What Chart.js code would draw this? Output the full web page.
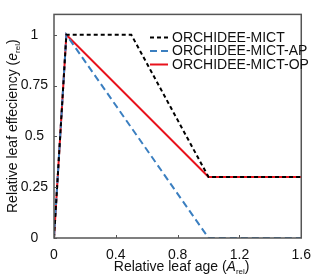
<!DOCTYPE html>
<html lang="en">
<head>
<meta charset="UTF-8">
<title>Relative leaf efficiency</title>
<script src="https://cdn.jsdelivr.net/npm/chart.js"></script>
<style>
  html, body { margin: 0; padding: 0; background: #fff; }
  #wrap { width: 320px; height: 275px; }
</style>
</head>
<body>
<div id="wrap"><canvas id="leafChart"></canvas></div>
<script>
// series data (relative leaf age -> relative leaf efficiency)
const mictAge = [0, 0.08, 0.5, 1.0, 1.6];
const mictEff = [0, 1, 1, 0.3, 0.3];
const apAge = [0, 0.08, 1.0, 1.6];
const apEff = [0, 1, 0, 0];
const opAge = [0, 0.08, 1.0, 1.6];
const opEff = [0, 1, 0.3, 0.3];

const seriesNames = ['ORCHIDEE-MICT', 'ORCHIDEE-MICT-AP', 'ORCHIDEE-MICT-OP'];
const xTicks = [0, 0.4, 0.8, 1.2, 1.6];
const yTicks = [0, 0.25, 0.5, 0.75, 1];

const font = '"Liberation Sans", Arial, sans-serif';

function pts(xs, ys) {
    return xs.map((x, i) => ({ x: x, y: ys[i] }));
}

// frame, inward tick marks, axis titles with subscripts, legend
const decor = {
    id: 'decor',
    afterDraw(chart) {
        const c = chart.ctx;
        const a = chart.chartArea;
        const sx = chart.scales.x, sy = chart.scales.y;
        c.save();
        c.strokeStyle = '#555';
        c.lineWidth = 1.5;
        c.strokeRect(a.left, a.top, a.right - a.left, a.bottom - a.top);
        c.lineWidth = 1;
        xTicks.forEach(v => {
            const px = Math.round(sx.getPixelForValue(v)) + 0.5;
            c.beginPath(); c.moveTo(px, a.bottom); c.lineTo(px, a.bottom - 3); c.stroke();
        });
        yTicks.forEach(v => {
            const py = Math.round(sy.getPixelForValue(v)) + 0.5;
            c.beginPath(); c.moveTo(a.left, py); c.lineTo(a.left + 3, py); c.stroke();
        });

        // x title
        c.fillStyle = '#111';
        c.textBaseline = 'alphabetic';
        const xy = 271;
        const parts = [
            { t: 'Relative leaf age (', f: '14px ' + font, dy: 0 },
            { t: 'A', f: 'italic 14px ' + font, dy: 0 },
            { t: 'rel', f: '8px ' + font, dy: 3 },
            { t: ')', f: '14px ' + font, dy: 0 }
        ];
        let w = 0;
        parts.forEach(p => { c.font = p.f; w += c.measureText(p.t).width; });
        let x = (a.left + a.right) / 2 - w / 2 + 4;
        parts.forEach(p => {
            c.font = p.f; c.fillText(p.t, x, xy + p.dy); x += c.measureText(p.t).width;
        });

        // y title
        c.save();
        c.translate(17, (a.top + a.bottom) / 2);
        c.rotate(-Math.PI / 2);
        const yparts = [
            { t: 'Relative leaf effeciency (', f: '14px ' + font, dy: 0 },
            { t: 'e', f: 'italic 14px ' + font, dy: 0 },
            { t: 'rel', f: '8px ' + font, dy: 3 },
            { t: ')', f: '14px ' + font, dy: 0 }
        ];
        w = 0;
        yparts.forEach(p => { c.font = p.f; w += c.measureText(p.t).width; });
        x = -w / 2;
        yparts.forEach(p => {
            c.font = p.f; c.fillText(p.t, x, p.dy); x += c.measureText(p.t).width;
        });
        c.restore();

        // legend
        c.font = '14px ' + font;
        c.textBaseline = 'middle';
        chart.data.datasets.forEach((ds, i) => {
            const ly = 37.5 + i * 13.5;
            c.strokeStyle = ds.borderColor;
            c.lineWidth = ds.borderWidth;
            c.setLineDash(ds.borderDash || []);
            c.beginPath(); c.moveTo(150, ly); c.lineTo(168, ly); c.stroke();
            c.setLineDash([]);
            c.fillStyle = '#111';
            c.fillText(seriesNames[i], 172, ly + 0.5);
        });
        c.restore();
    }
};

new Chart(document.getElementById('leafChart'), {
    type: 'scatter',
    data: {
        datasets: [
            { label: seriesNames[0], data: pts(mictAge, mictEff), showLine: true,
              borderColor: '#000', borderWidth: 2, borderDash: [4, 3], pointRadius: 0 },
            { label: seriesNames[1], data: pts(apAge, apEff), showLine: true,
              borderColor: '#3b7fc0', borderWidth: 2, borderDash: [7, 4], pointRadius: 0 },
            { label: seriesNames[2], data: pts(opAge, opEff), showLine: true,
              borderColor: '#e8121c', borderWidth: 2, pointRadius: 0 }
        ]
    },
    options: {
        responsive: true,
        maintainAspectRatio: false,
        animation: false,
        layout: { padding: { left: 0, right: 14, top: 3, bottom: 0 } },
        plugins: { legend: { display: false }, tooltip: { enabled: false } },
        scales: {
            x: {
                type: 'linear', min: 0, max: 1.6,
                afterBuildTicks: s => { s.ticks = xTicks.map(v => ({ value: v })); },
                afterFit: s => { s.height = 37; },
                grid: { display: false, drawTicks: false },
                border: { display: false },
                ticks: { font: { size: 14, family: font }, color: '#111', padding: 9, maxRotation: 0,
                         callback: v => String(v) }
            },
            y: {
                type: 'linear', min: 0, max: 1.1,
                afterBuildTicks: s => { s.ticks = yTicks.map(v => ({ value: v })); },
                afterFit: s => { s.width = 54; },
                grid: { display: false, drawTicks: false },
                border: { display: false },
                ticks: { font: { size: 14, family: font }, color: '#111', padding: 6,
                         crossAlign: 'center', callback: v => String(v) }
            }
        }
    },
    plugins: [decor]
});
</script>
</body>
</html>
